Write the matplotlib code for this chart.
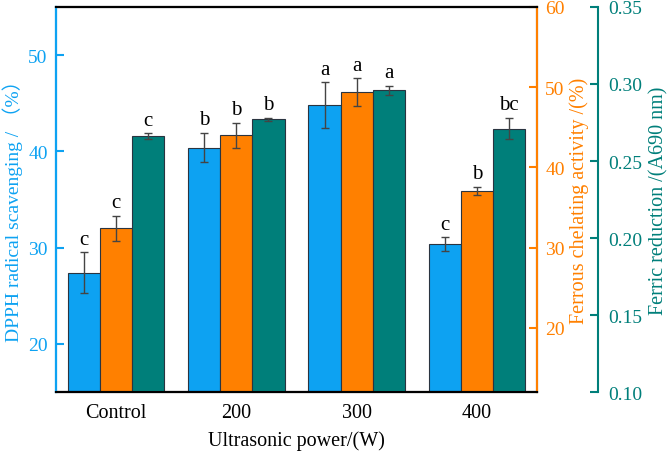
import numpy as np
import matplotlib.pyplot as plt

plt.rcParams['font.family'] = ['Liberation Serif', 'Noto Sans CJK SC']

groups = ['Control', '200', '300', '400']

dpph = [27.4, 40.4, 44.8, 30.4]
dpph_err = [2.1, 1.55, 2.4, 0.7]
dpph_sig = ['c', 'b', 'a', 'c']

ferrous = [32.4, 44.0, 49.4, 37.1]
ferrous_err = [1.6, 1.55, 1.75, 0.5]
ferrous_sig = ['c', 'b', 'a', 'b']

ferric = [0.266, 0.277, 0.296, 0.271]
ferric_err = [0.002, 0.001, 0.003, 0.007]
ferric_sig = ['c', 'b', 'a', 'bc']

c_blue = '#0DA2F2'
c_orange = '#FF8000'
c_teal = '#007F7A'

fig = plt.figure(figsize=(6.69, 4.56), dpi=100)
ax1 = fig.add_axes([0.0837, 0.138, 0.719, 0.8445])
ax2 = ax1.twinx()
ax3 = ax1.twinx()

x = np.arange(len(groups))
w = 0.267
err_kw = dict(ecolor='#444444', elinewidth=1, capsize=3, capthick=1)

def draw(ax, pos, vals, errs, sig, color):
    ax.bar(pos, vals, w, yerr=errs, color=color, edgecolor='#2a3440',
           linewidth=0.8, error_kw=err_kw, zorder=2)
    for p, v, e, s in zip(pos, vals, errs, sig):
        ax.annotate(s, (p, v + e), xytext=(0, 2.5), textcoords='offset points',
                    ha='center', va='bottom', fontsize=15)

draw(ax1, x - w, dpph, dpph_err, dpph_sig, c_blue)
draw(ax2, x, ferrous, ferrous_err, ferrous_sig, c_orange)
draw(ax3, x + w, ferric, ferric_err, ferric_sig, c_teal)

ax1.set_xlim(-0.5, 3.5)
ax1.set_ylim(15, 55)
ax2.set_ylim(12, 60)
ax3.set_ylim(0.10, 0.35)

ax1.set_xticks(x)
ax1.set_xticklabels(groups)
ax1.set_yticks([20, 30, 40, 50])
ax2.set_yticks([20, 30, 40, 50, 60])
ax3.set_yticks([0.10, 0.15, 0.20, 0.25, 0.30, 0.35])
ax3.set_yticklabels(['0.10', '0.15', '0.20', '0.25', '0.30', '0.35'])

ax1.tick_params(axis='x', direction='in', length=5, width=1.5, labelsize=14.5, pad=8)
ax1.tick_params(axis='y', direction='in', length=6, width=1.5, colors=c_blue, labelsize=14, pad=6)
ax2.tick_params(axis='y', direction='in', length=6, width=1.5, colors=c_orange, labelsize=14, pad=6)
ax3.tick_params(axis='y', direction='in', length=6, width=1.5, colors=c_teal, labelsize=14, pad=7)

ax3.spines['right'].set_position(('outward', 44))
for ax in (ax1, ax2, ax3):
    for s in ax.spines.values():
        s.set_linewidth(1.5)
ax1.spines['left'].set_color(c_blue)
ax2.spines['left'].set_color(c_blue)
ax3.spines['left'].set_color(c_blue)
ax2.spines['right'].set_color(c_orange)
ax3.spines['right'].set_color(c_teal)

ax1.set_xlabel('Ultrasonic power/(W)', fontsize=14.5, labelpad=6)
# left label placed on the figure so it stays inside the canvas
fig.text(0.004, 0.548, 'DPPH radical scavenging / （%）', fontsize=14, color=c_blue,
         rotation=90, ha='left', va='center')
ax2.set_ylabel('Ferrous chelating activity /(%)', fontsize=14.5, color=c_orange, labelpad=3)
ax3.set_ylabel('Ferric reduction /(A690 nm)', fontsize=14.5, color=c_teal, labelpad=5)

fig.savefig('out.png', dpi=100)
